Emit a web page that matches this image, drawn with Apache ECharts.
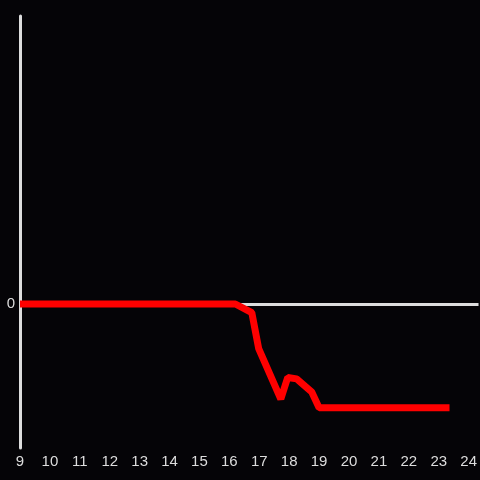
<!DOCTYPE html>
<html>
<head>
<meta charset="utf-8">
<script src="https://cdn.jsdelivr.net/npm/echarts@6/dist/echarts.min.js"></script>
<style>
  html, body { margin: 0; padding: 0; background: #050407; }
  #chart { width: 480px; height: 480px; }
</style>
</head>
<body>
<div id="chart"></div>
<script>
const xs = [9, 16.2, 16.75, 16.98, 17.72, 17.95, 18.25, 18.75, 19.0, 23.36];
const ys = [0, 0, -0.06, -0.31, -0.66, -0.51, -0.52, -0.61, -0.72, -0.72];

let myChart
function draw(){
    let option = {
        backgroundColor: '#050407',
        animation: false,
        grid: { left: 20, right: 0, top: 16, bottom: 32 },
        xAxis: {
            type: 'value',
            min: 9,
            max: 24.33,
            interval: 1,
            axisLine: { show: false },
            axisTick: { show: false },
            splitLine: { show: false },
            axisLabel: {
                color: '#dddddd',
                fontSize: 15,
                margin: 6,
                showMaxLabel: false,
                formatter: function (v) { return Number.isInteger(v) ? String(v) : ''; }
            }
        },
        yAxis: {
            type: 'value',
            min: -1,
            max: 2,
            interval: 1,
            axisLine: { show: true, lineStyle: { color: '#dddddd', width: 3 } },
            axisTick: { show: false },
            splitLine: { show: false },
            axisLabel: {
                color: '#dddddd',
                fontSize: 15,
                margin: 5,
                formatter: function (v) { return v === 0 ? '0' : ''; }
            }
        },
        series: [{
            type: 'line',
            data: xs.map((x, i) => [x, ys[i]]),
            symbol: 'none',
            lineStyle: { color: '#ff0000', width: 7 },
            z: 1,
            markLine: {
                silent: true,
                symbol: 'none',
                label: { show: false },
                lineStyle: { color: '#dddddd', width: 3, type: 'solid' },
                data: [{ yAxis: 0 }],
                z: 0
            }
        }]
    };

    myChart = echarts.init(document.getElementById("chart"));
    myChart.setOption(option);

    window.addEventListener('resize',function(){
        myChart.resize();
    },false)
}

draw()
</script>
</body>
</html>
